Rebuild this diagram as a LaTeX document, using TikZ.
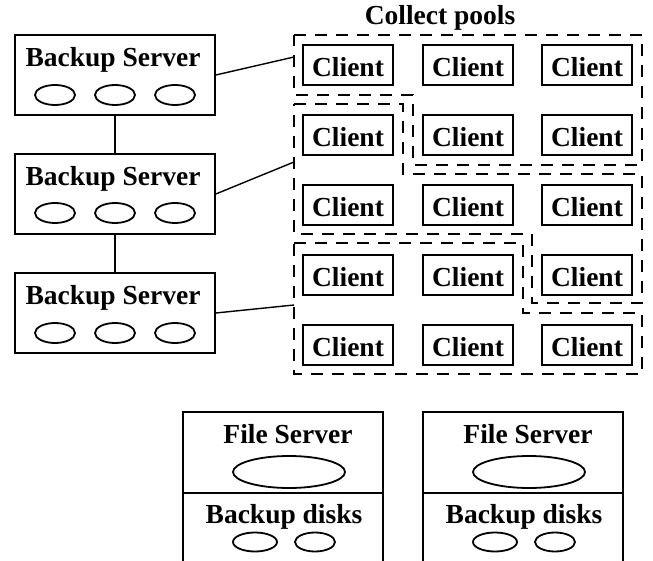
\documentclass[tikz,border=0pt]{standalone}
\usepackage{fontspec}
\setmainfont{Liberation Serif}
\usepackage{tikz}
\usetikzlibrary{shapes}
\usetikzlibrary{positioning, fit, arrows.meta}

\tikzset{
  box/.style={draw, rectangle, line width=1.6pt, inner sep=0pt},
  disk/.style={draw, ellipse, line width=1.8pt, inner sep=0pt, minimum width=40pt, minimum height=20pt},
  client/.style={draw, rectangle, line width=1.6pt, inner sep=0pt, minimum width=90pt, minimum height=40pt,
                 text height=23pt, text depth=0pt, font=\bfseries\fontsize{27.5}{31}\selectfont},
  caption/.style={anchor=base, inner sep=0pt, font=\bfseries\fontsize{27.5}{31}\selectfont},
  pool/.style={line width=1.6pt, dash pattern=on 12pt off 9pt},
  link/.style={line width=1.4pt}
}

\begin{document}
\begin{tikzpicture}[x=1pt, y=-1pt]
  \useasboundingbox (0,0) rectangle (653,561);
  \clip (0,0) rectangle (653,561);

  % Backup servers, each with three disks
  \node[box, minimum width=200pt, minimum height=80pt] (S1) at (115,75) {};
  \node[box, minimum width=200pt, minimum height=80pt] (S2) at (115,194) {};
  \node[box, minimum width=200pt, minimum height=80pt] (S3) at (115,313) {};
  \node[caption] (S1t) at (113,67) {Backup Server};
  \node[caption] (S2t) at (113,186) {Backup Server};
  \node[caption] (S3t) at (113,305) {Backup Server};
  \node[disk] (S1a) at (55,95) {};
  \node[disk] (S1b) at (115,95) {};
  \node[disk] (S1c) at (175,95) {};
  \node[disk] (S2a) at (55,213) {};
  \node[disk] (S2b) at (115,213) {};
  \node[disk] (S2c) at (175,213) {};
  \node[disk] (S3a) at (55,333) {};
  \node[disk] (S3b) at (115,333) {};
  \node[disk] (S3c) at (175,333) {};

  % Servers are chained top to bottom
  \draw[link] (S1.south) -- (S2.north);
  \draw[link] (S2.south) -- (S3.north);

  % Clients, five rows of three
  \node[client] (C11) at (348,65) {Client};
  \node[client] (C12) at (468,65) {Client};
  \node[client] (C13) at (587,65) {Client};
  \node[client] (C21) at (348,135) {Client};
  \node[client] (C22) at (468,135) {Client};
  \node[client] (C23) at (587,135) {Client};
  \node[client] (C31) at (348,205) {Client};
  \node[client] (C32) at (468,205) {Client};
  \node[client] (C33) at (587,205) {Client};
  \node[client] (C41) at (348,275) {Client};
  \node[client] (C42) at (468,275) {Client};
  \node[client] (C43) at (587,275) {Client};
  \node[client] (C51) at (348,345) {Client};
  \node[client] (C52) at (468,345) {Client};
  \node[client] (C53) at (587,345) {Client};

  % Collect pools as dashed outlines
  \node[caption] (pools) at (440,25) {Collect pools};
  \draw[pool] (294,35) -- (642,35) -- (642,165) -- (413,165) -- (413,95) -- (294,95) -- cycle;
  \draw[pool] (294,104) -- (403,104) -- (403,174) -- (642,174) -- (642,303) -- (532,303)
              -- (532,234) -- (294,234) -- cycle;
  \draw[pool] (294,243) -- (523,243) -- (523,313) -- (642,313) -- (642,374) -- (294,374) -- cycle;

  % Each server feeds one pool
  \coordinate (P1) at (294,57);
  \coordinate (P2) at (294,162);
  \coordinate (P3) at (294,305);
  \draw[link] (S1.east) -- (P1);
  \draw[link] (S2.east) -- (P2);
  \draw[link] (S3.east) -- (P3);

  % File servers with their backup disks
  \node[box, minimum width=200pt, minimum height=81pt] (F1) at (283,452.5) {};
  \node[box, minimum width=200pt, minimum height=127pt] (D1) at (283,556.5) {};
  \node[box, minimum width=200pt, minimum height=81pt] (F2) at (523,452.5) {};
  \node[box, minimum width=200pt, minimum height=127pt] (D2) at (523,556.5) {};
  \node[caption] (F1t) at (288,443) {File Server};
  \node[caption] (F2t) at (528,443) {File Server};
  \node[disk, minimum width=112pt, minimum height=32pt] (F1e) at (289,472) {};
  \node[disk, minimum width=112pt, minimum height=32pt] (F2e) at (529,472) {};
  \node[caption] (D1t) at (284,523) {Backup disks};
  \node[caption] (D2t) at (524,523) {Backup disks};
  \node[disk, minimum width=44pt, minimum height=19pt] (D1a) at (255,542) {};
  \node[disk, minimum width=40pt, minimum height=19pt] (D1b) at (315,542) {};
  \node[disk, minimum width=44pt, minimum height=19pt] (D2a) at (495,542) {};
  \node[disk, minimum width=40pt, minimum height=19pt] (D2b) at (555,542) {};
\end{tikzpicture}
\end{document}
